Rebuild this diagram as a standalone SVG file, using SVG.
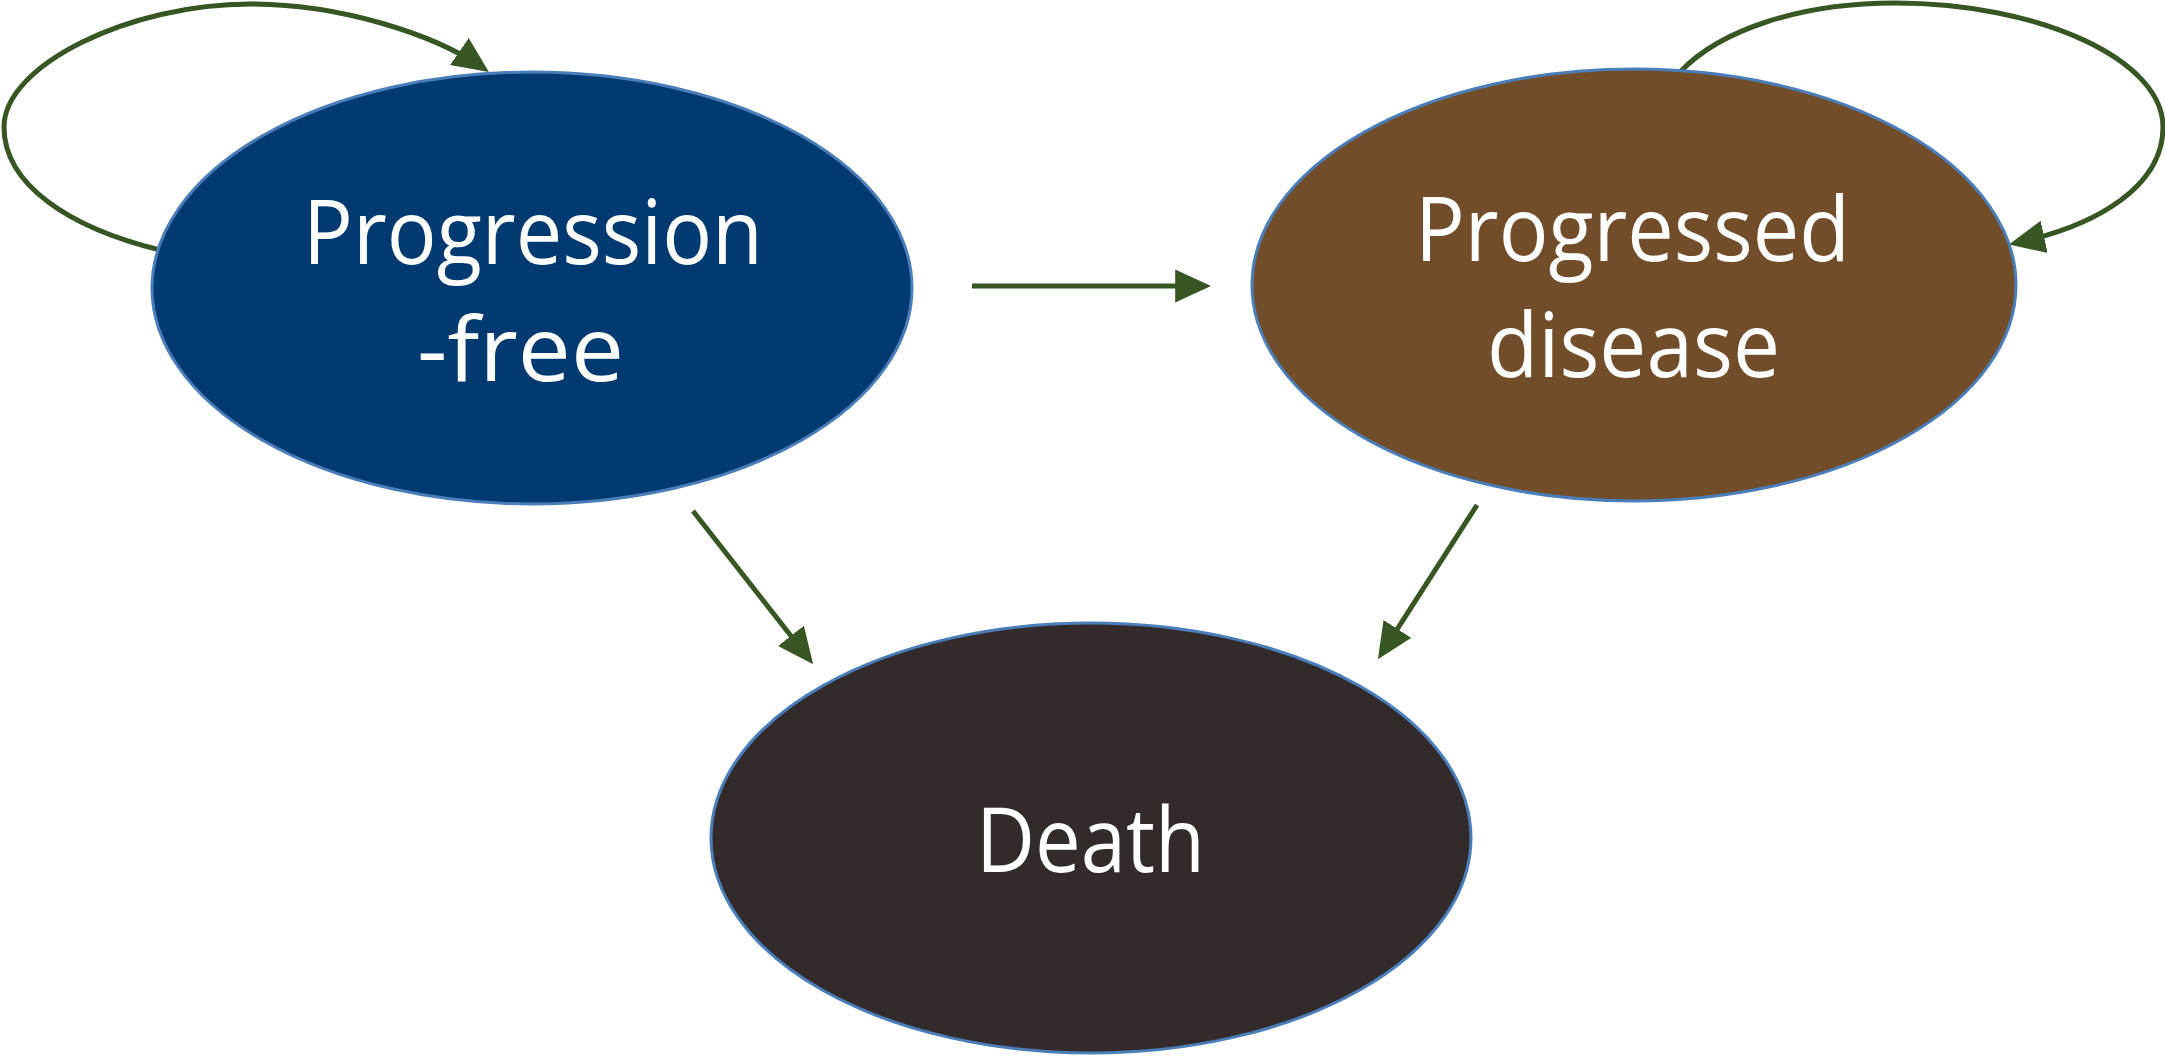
<svg xmlns="http://www.w3.org/2000/svg" width="2165" height="1056" viewBox="0 0 2165 1056">
<style>
.node{stroke:#4A7EBB;stroke-width:3}
.lbl{font-family:"Open Sans","Noto Sans",sans-serif;font-size:90px;fill:#ffffff}
.conn{fill:none;stroke:#375623;stroke-width:5}
</style>
<defs>
<marker id="ah" markerUnits="userSpaceOnUse" markerWidth="36" markerHeight="34" viewBox="0 0 35 32" refX="28" refY="16" orient="auto">
<path d="M0,0 L35,16 L0,32 z" fill="#375623"/>
</marker>
</defs>
<rect width="2165" height="1056" fill="#ffffff"/>
<g id="connectors">
<path class="conn" d="M 160 250 C 70 228, 4 185, 4 127 C 4 65, 130 4, 250 4 C 340 4, 434 34, 483 68" marker-end="url(#ah)"/>
<path class="conn" d="M 1680 72 C 1720 30, 1800 3, 1895 3 C 2040 3, 2163 60, 2163 127 C 2163 185, 2100 225, 2016 243" marker-end="url(#ah)"/>
<line class="conn" x1="972" y1="286" x2="1204" y2="286" marker-end="url(#ah)"/>
<line class="conn" x1="693" y1="511" x2="808.7" y2="658.5" marker-end="url(#ah)"/>
<line class="conn" x1="1477" y1="505" x2="1381.8" y2="653.1" marker-end="url(#ah)"/>
</g>
<g id="node-progression-free">
<ellipse class="node" cx="532" cy="288" rx="380" ry="216" fill="#003A70"/>
<text class="lbl" x="303" y="264" textLength="460" lengthAdjust="spacingAndGlyphs">Progression</text>
<text class="lbl" x="417" y="381" textLength="207" lengthAdjust="spacingAndGlyphs">-free</text>
</g>
<g id="node-progressed-disease">
<ellipse class="node" cx="1634" cy="285" rx="382" ry="216" fill="#724D29"/>
<text class="lbl" x="1415" y="261" textLength="435" lengthAdjust="spacingAndGlyphs">Progressed</text>
<text class="lbl" x="1487" y="377" textLength="293" lengthAdjust="spacingAndGlyphs">disease</text>
</g>
<g id="node-death">
<ellipse class="node" cx="1091" cy="838" rx="380" ry="215" fill="#332A2B"/>
<text class="lbl" x="976" y="872" textLength="229" lengthAdjust="spacingAndGlyphs">Death</text>
</g>
</svg>
